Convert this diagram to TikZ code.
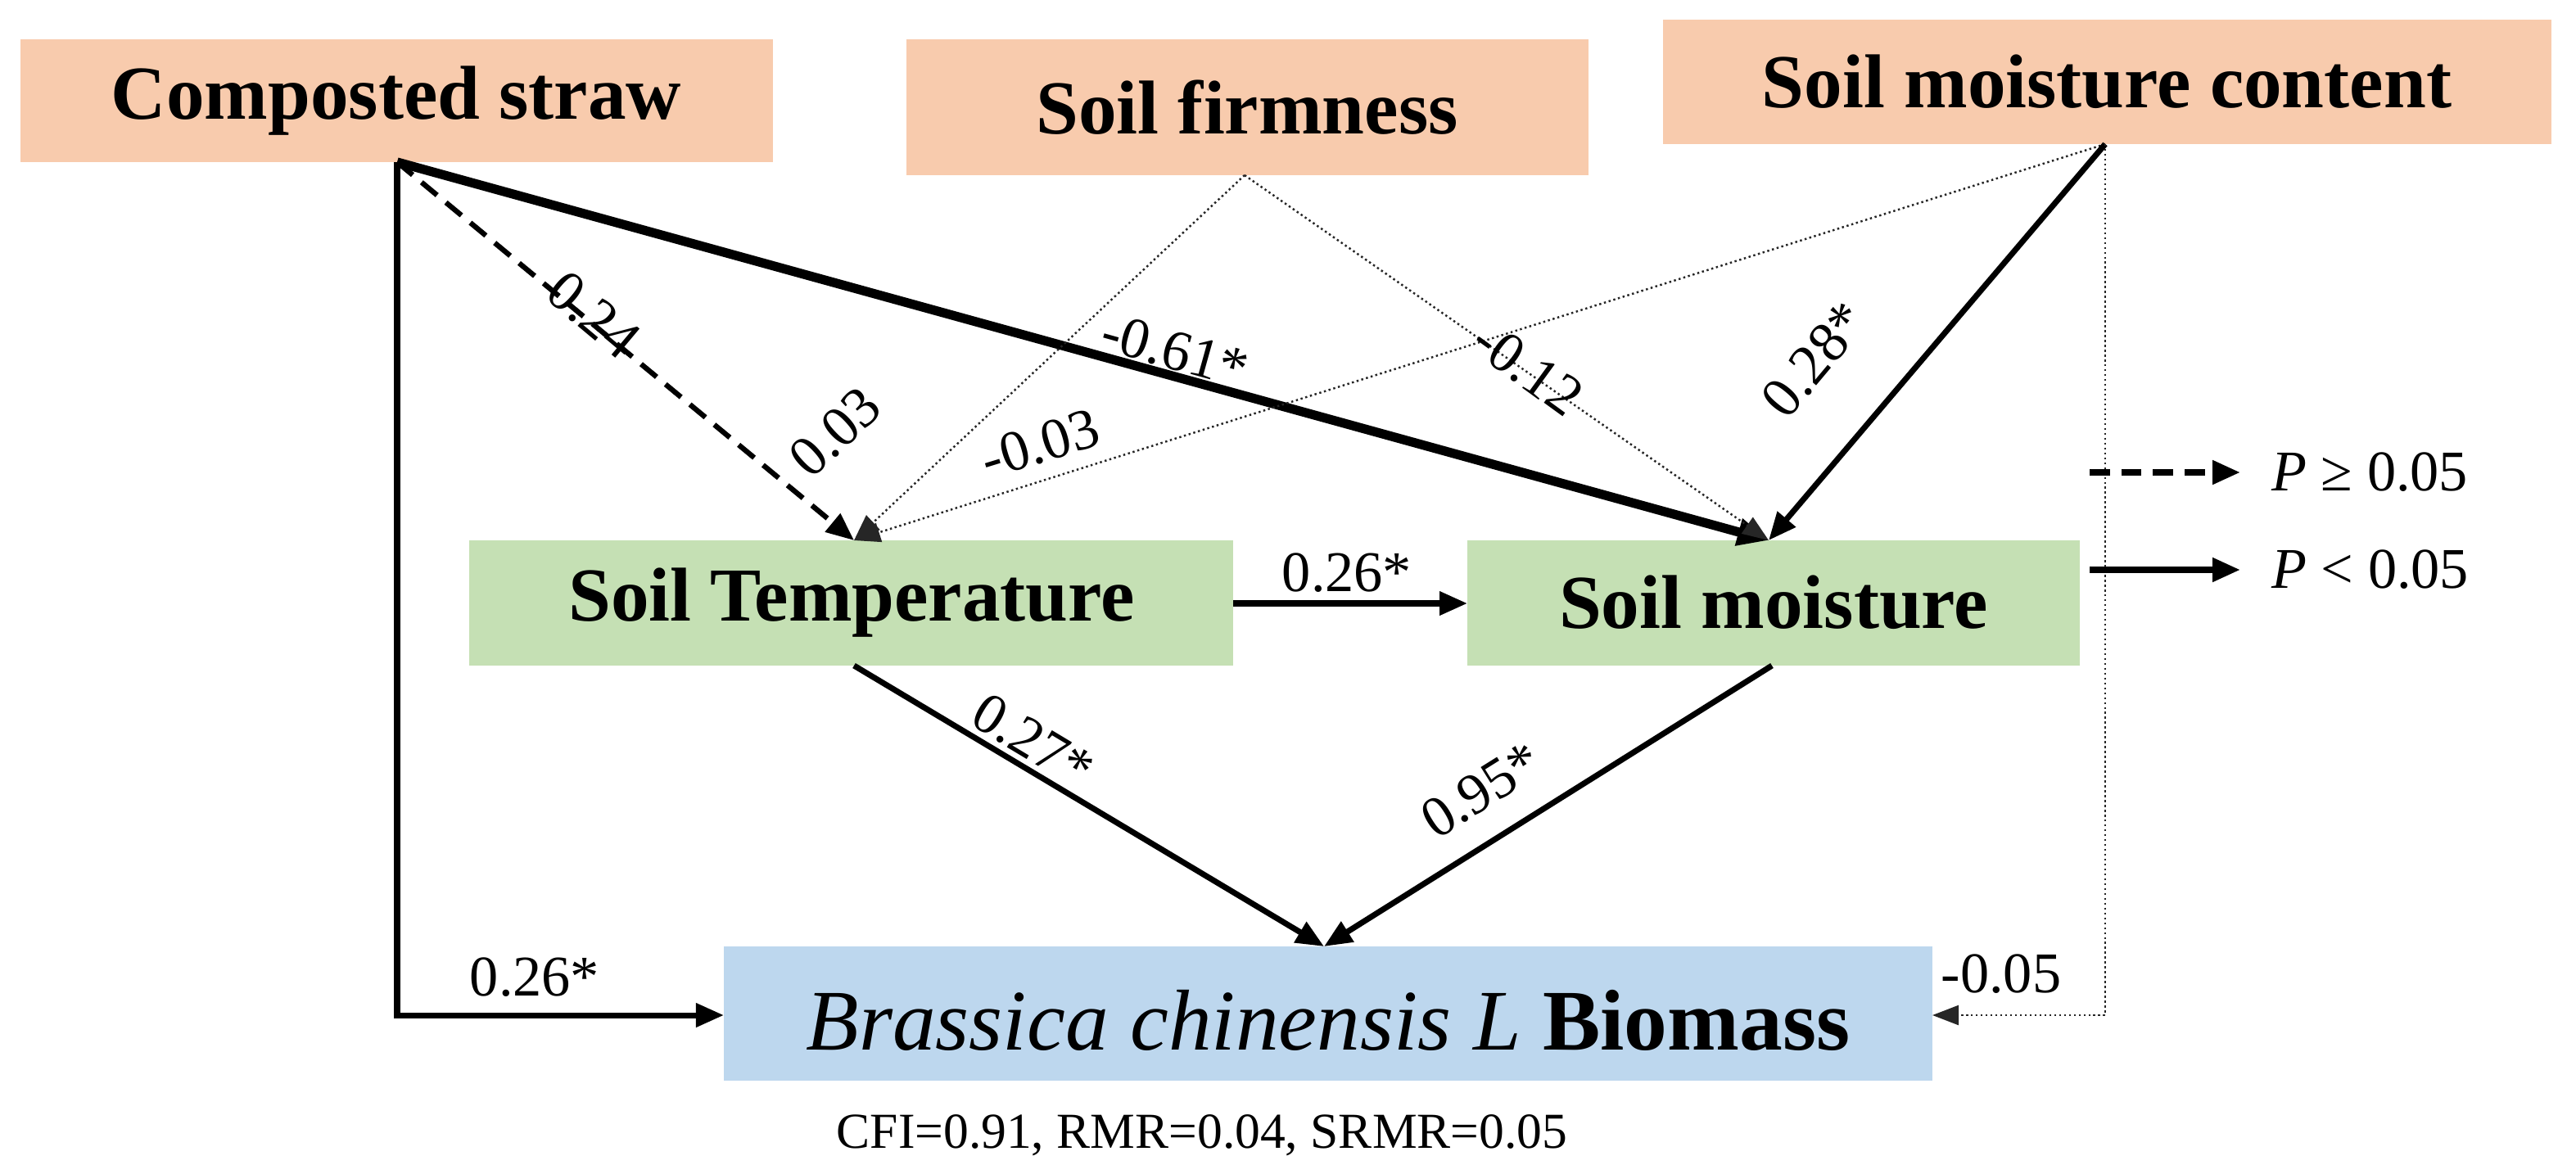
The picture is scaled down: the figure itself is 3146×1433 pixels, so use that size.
\documentclass[tikz,border=0pt]{standalone}
\usepackage{fontspec}
\setmainfont{Liberation Serif}
\usetikzlibrary{arrows.meta}
\definecolor{salmon}{HTML}{F8CBAD}
\definecolor{lgreen}{HTML}{C5E0B4}
\definecolor{lblue}{HTML}{BDD7EE}
\begin{document}
\begin{tikzpicture}[x=0.01cm,y=-0.01cm,
  box/.style={inner sep=0pt,font=\fontsize{26.5}{30}\selectfont\bfseries},
  tip/.style={-{Triangle[length=0.34cm,width=0.28cm]}},
  sol/.style={tip,line width=2pt},
  thk/.style={-{Triangle[length=0.38cm,width=0.32cm]},line width=3.2pt},
  dsh/.style={tip,line width=1.8pt,dash pattern=on 7pt off 4pt},
  dot/.style={-{Triangle[length=0.32cm,width=0.24cm]},line width=0.7pt,densely dotted,black!85},
  lab/.style={font=\fontsize{20}{22}\selectfont,inner sep=1pt}]
\useasboundingbox (0,0) rectangle (3146,1433);
% boxes
\fill[salmon] (25,48) rectangle (944,198);
\node[box] (cs) at (484,123) {Composted straw};
\fill[salmon] (1107,48) rectangle (1940,214);
\node[box] (sf) at (1523,131) {Soil firmness};
\fill[salmon] (2031,24) rectangle (3116,176);
\node[box] (smc) at (2573,100) {Soil moisture content};
\fill[lgreen] (573,660) rectangle (1506,813);
\node[box] (st) at (1040,736) {Soil Temperature};
\fill[lgreen] (1792,660) rectangle (2540,813);
\node[box] (sm) at (2166,736) {Soil moisture};
\fill[lblue] (884,1156) rectangle (2360,1320);
\node[inner sep=0pt,font=\fontsize{30}{32}\selectfont] (bm) at (1622,1246) {\textit{Brassica chinensis L} \textbf{Biomass}};
\node[font=\fontsize{17.5}{20}\selectfont,inner sep=0pt] (fit) at (1468,1387) {CFI=0.91, RMR=0.04, SRMR=0.05};
% anchor coordinates
\coordinate (csO) at (485,198);
\coordinate (sfO) at (1520,214);
\coordinate (smcO) at (2571,176);
\coordinate (stIn) at (1043,660);
\coordinate (smIn) at (2160,660);
\coordinate (stOut) at (1043,813);
\coordinate (smOut) at (2164,813);
\coordinate (bmIn) at (1617,1156);
\coordinate (bmL) at (884,1240);
\coordinate (bmR) at (2360,1240);
\coordinate (stR) at (1506,737);
\coordinate (smL) at (1792,737);
% connectors
\draw[dsh] (csO) -- (stIn);
\draw[thk] (csO) -- (smIn);
\draw[sol] (csO) |- (bmL);
\draw[dot] (sfO) -- (stIn);
\draw[dot] (sfO) -- (smIn);
\draw[dot] (smcO) -- (stIn);
\draw[sol] (smcO) -- (smIn);
\draw[dot] (smcO) |- (bmR);
\draw[sol] (stR) -- (smL);
\draw[sol] (stOut) -- (bmIn);
\draw[sol] (smOut) -- (bmIn);
% labels
\node[lab,rotate=-40] (l1) at (725,385) {0.24};
\node[lab,rotate=43] (l2) at (1020,528) {0.03};
\node[lab,rotate=17] (l3) at (1270,542) {-0.03};
\node[lab,rotate=-15.6] (l4) at (1435,428) {-0.61*};
\node[lab,rotate=-36] (l5) at (1866,450) {-0.12};
\node[lab,rotate=50] (l6) at (2216,439) {0.28*};
\node[lab] (l7) at (1645,700) {0.26*};
\node[lab,rotate=-31] (l8) at (1262,905) {0.27*};
\node[lab,rotate=32] (l9) at (1809,965) {0.95*};
\node[lab] (l10) at (653,1194) {0.26*};
\node[lab] (l11) at (2444,1190) {-0.05};
% legend
\coordinate (ga) at (2552,577); \coordinate (gb) at (2736,577);
\coordinate (gc) at (2552,696); \coordinate (gd) at (2736,696);
\draw[dsh,line width=2.2pt] (ga) -- (gb);
\draw[sol,line width=2.2pt] (gc) -- (gd);
\node[lab,anchor=west] (lg1) at (2770,577) {\textit{P} ≥ 0.05};
\node[lab,anchor=west] (lg2) at (2770,696) {\textit{P} < 0.05};
\end{tikzpicture}
\end{document}
